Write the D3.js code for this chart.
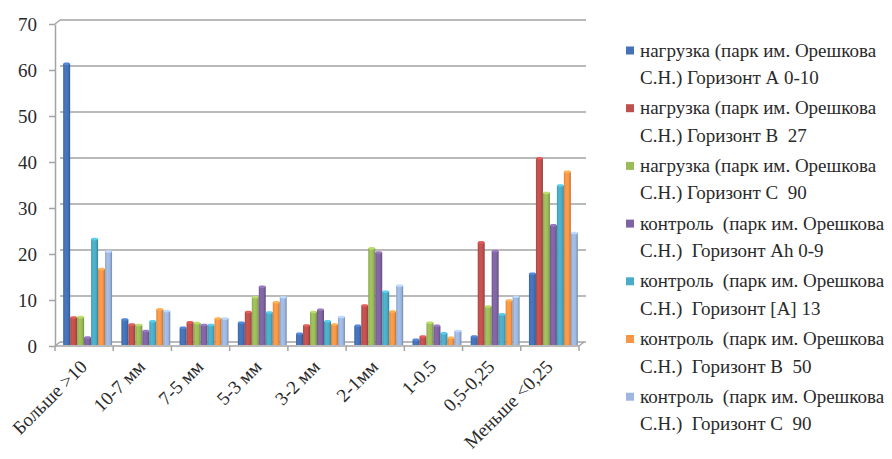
<!DOCTYPE html>
<html>
<head>
<meta charset="utf-8">
<script src="https://cdn.jsdelivr.net/npm/d3@7"></script>
<style>
  html, body { margin: 0; padding: 0; background: #ffffff; }
  svg { display: block; }
  svg text { font-family: "Liberation Serif", "Tinos", "Times New Roman", "DejaVu Serif", serif !important; fill: #2a2a2a; }
</style>
</head>
<body>
<svg id="chart" width="892" height="459"></svg>
<script>
// Fractions (size classes)
const categories = ["Больше >10", "10-7 мм", "7-5 мм", "5-3 мм", "3-2 мм", "2-1мм", "1-0.5", "0,5-0,25", "Меньше <0,25"];

// Series labels (first line / second line of the legend entry)
const seriesLine1 = [
  "нагрузка (парк им. Орешкова",
  "нагрузка (парк им. Орешкова",
  "нагрузка (парк им. Орешкова",
  "контроль  (парк им. Орешкова",
  "контроль  (парк им. Орешкова",
  "контроль  (парк им. Орешкова",
  "контроль  (парк им. Орешкова"
];
const seriesLine2 = [
  "С.Н.) Горизонт А 0-10",
  "С.Н.) Горизонт В  27",
  "С.Н.) Горизонт С  90",
  "С.Н.)  Горизонт Ah 0-9",
  "С.Н.)  Горизонт [A] 13",
  "С.Н.)  Горизонт В  50",
  "С.Н.)  Горизонт С  90"
];

// Values, %, one array per series in category order
const loadA   = [61.0, 5.6, 3.8, 4.9, 2.5, 4.2, 1.2, 1.9, 15.5];
const loadB   = [6.0, 4.5, 5.0, 7.2, 4.3, 8.6, 1.9, 22.3, 40.5];
const loadC   = [6.1, 4.4, 4.8, 10.4, 7.2, 21.0, 4.9, 8.4, 33.0];
const ctrlAh  = [1.7, 3.1, 4.4, 12.7, 7.7, 20.1, 4.2, 20.4, 26.0];
const ctrlA   = [23.0, 5.2, 4.4, 7.1, 5.2, 11.6, 2.6, 6.7, 34.6];
const ctrlB   = [16.5, 7.8, 5.8, 9.3, 4.5, 7.3, 1.6, 9.7, 37.6];
const ctrlC   = [20.3, 7.4, 5.8, 10.4, 6.1, 12.9, 3.1, 10.5, 24.3];

const seriesValues = [loadA, loadB, loadC, ctrlAh, ctrlA, ctrlB, ctrlC];
const seriesColors = ["#4472b8", "#c0504d", "#9bbb59", "#8064a2", "#4bacc6", "#f79646", "#9db7e0"];
const yTicks = [0, 10, 20, 30, 40, 50, 60, 70];

const svg = d3.select("#chart");
const defs = svg.append("defs");

// Plot geometry: a front axis plane and a back wall shifted up-right (3D depth)
const front = { left: 55, right: 579, bottom: 346, top: 24 };
const depth = { dx: 5, dy: -4 };

const x0 = d3.scaleBand().domain(categories).range([front.left, front.right])
  .paddingInner(0.16).paddingOuter(0.08);
const x1 = d3.scaleBand().domain(d3.range(seriesValues.length)).range([0, x0.bandwidth()]);
const yFront = d3.scaleLinear().domain([0, 70]).range([front.bottom, front.top]);
const yBack = d3.scaleLinear().domain([0, 70]).range([front.bottom + depth.dy, front.top + depth.dy]);
const yBar = d3.scaleLinear().domain([0, 70]).range([front.bottom - 1, front.top - 2]);

const gridColor = "#a3a3a3";

// Back wall gridlines
svg.append("g").selectAll("line").data(yTicks).join("line")
  .attr("x1", front.left + depth.dx).attr("x2", front.right + depth.dx + 2)
  .attr("y1", d => yBack(d)).attr("y2", d => yBack(d))
  .attr("stroke", gridColor).attr("stroke-width", 1.5);

// Corner edges joining the front plane to the back wall
const edges = [
  [front.left, yFront(70), front.left + depth.dx, yBack(70)],
  [front.left, yFront(0), front.left + depth.dx, yBack(0)],
  [front.right, yFront(0), front.right + depth.dx, yBack(0)]
];
svg.append("g").selectAll("line").data(edges).join("line")
  .attr("x1", d => d[0]).attr("y1", d => d[1]).attr("x2", d => d[2]).attr("y2", d => d[3])
  .attr("stroke", gridColor).attr("stroke-width", 1.5);

// Y axis
const yAxis = svg.append("g").attr("transform", `translate(${front.left},0)`)
  .call(d3.axisLeft(yFront).tickValues(yTicks).tickSize(6).tickSizeOuter(0).tickPadding(12));
yAxis.attr("font-family", null);
yAxis.select(".domain").attr("stroke", gridColor).attr("stroke-width", 1.5);
yAxis.selectAll(".tick line").attr("stroke", gridColor).attr("stroke-width", 1.5);
yAxis.selectAll(".tick text").style("font-size", "19px").attr("fill", "#333");

// Bar shading gradients (rounded 3D column look)
seriesColors.forEach((c, i) => {
  const base = d3.color(c);
  const g = defs.append("linearGradient").attr("id", "bar" + i)
    .attr("x1", "0%").attr("x2", "100%").attr("y1", "0%").attr("y2", "0%");
  g.append("stop").attr("offset", "0%").attr("stop-color", base.darker(0.35));
  g.append("stop").attr("offset", "30%").attr("stop-color", base.brighter(0.15));
  g.append("stop").attr("offset", "70%").attr("stop-color", base);
  g.append("stop").attr("offset", "100%").attr("stop-color", base.darker(0.8));
});

const shift = 3.5;
const groups = svg.append("g").selectAll("g").data(categories).join("g")
  .attr("transform", d => `translate(${x0(d) + shift},0)`);

groups.each(function (cat, ci) {
  const g = d3.select(this);
  seriesValues.forEach((vals, si) => {
    const v = vals[ci];
    const bx = x1(si);
    const bw = x1.bandwidth();
    g.append("rect")
      .attr("x", bx).attr("width", bw)
      .attr("y", yBar(v)).attr("height", yBar(0) - yBar(v))
      .attr("fill", `url(#bar${si})`);
    // lighter rounded cap on top of each column
    g.append("rect")
      .attr("x", bx + 0.5).attr("width", bw - 1)
      .attr("y", yBar(v) - 1).attr("height", 2.5)
      .attr("rx", 1.2)
      .attr("fill", d3.color(seriesColors[si]).brighter(0.5));
  });
});

// X axis line with boundary ticks
const xAxis = svg.append("g");
xAxis.append("line")
  .attr("x1", front.left).attr("x2", front.right)
  .attr("y1", yFront(0)).attr("y2", yFront(0))
  .attr("stroke", gridColor).attr("stroke-width", 1.5);
xAxis.selectAll("line.tick").data(d3.range(categories.length + 1)).join("line")
  .attr("class", "tick")
  .attr("x1", i => front.left + i * x0.step()).attr("x2", i => front.left + i * x0.step())
  .attr("y1", yFront(0)).attr("y2", yFront(0) + 5)
  .attr("stroke", gridColor).attr("stroke-width", 1.5);

// Rotated category labels
xAxis.selectAll("text").data(categories).join("text")
  .attr("text-anchor", "end")
  .attr("transform", d => `translate(${x0(d) + x0.bandwidth() / 2 + 4},${yFront(0) + 22}) rotate(-45)`)
  .style("font-size", "19px")
  .attr("fill", "#333")
  .text(d => d);

// Legend
const legend = svg.append("g").attr("transform", "translate(626,0)");
const items = legend.selectAll("g").data(seriesColors).join("g")
  .attr("transform", (d, i) => `translate(0,${56.5 + i * 57.7})`);
items.append("rect").attr("x", 0).attr("y", -10).attr("width", 8).attr("height", 8)
  .attr("fill", d => d);
items.append("text").attr("x", 14).attr("y", 0)
  .style("font-size", "19px").style("white-space", "pre")
  .text((d, i) => seriesLine1[i]);
items.append("text").attr("x", 14).attr("y", 27.5)
  .style("font-size", "19px").style("white-space", "pre")
  .text((d, i) => seriesLine2[i]);
</script>
</body>
</html>
